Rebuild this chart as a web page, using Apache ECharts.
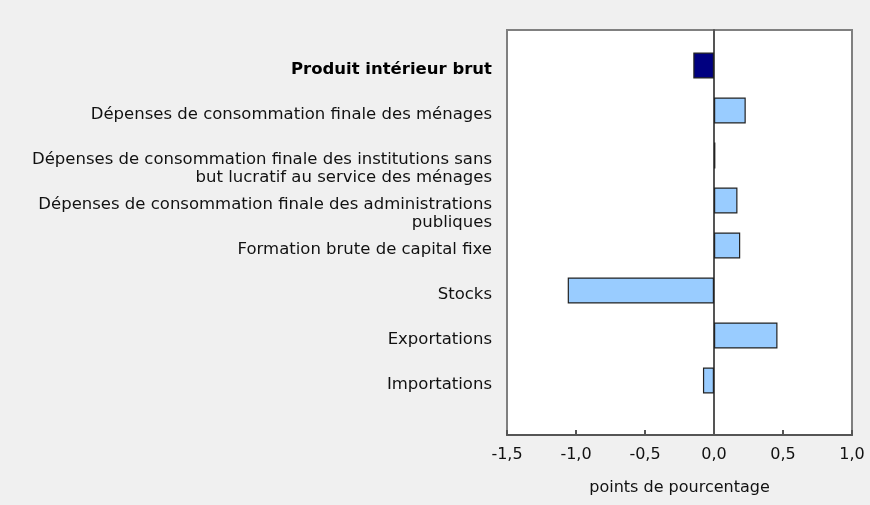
<!DOCTYPE html>
<html>
<head>
<meta charset="utf-8">
<script src="https://cdn.jsdelivr.net/npm/echarts@6/dist/echarts.min.js"></script>
<style>
html,body{margin:0;padding:0;background:#f0f0f0;}
#chart{width:870px;height:505px;}
</style>
</head>
<body>
<div id="chart"></div>
<script>
const categories = [
  "Produit intérieur brut",
  "Dépenses de consommation finale des ménages",
  "Dépenses de consommation finale des institutions sans\nbut lucratif au service des ménages",
  "Dépenses de consommation finale des administrations\npubliques",
  "Formation brute de capital fixe",
  "Stocks",
  "Exportations",
  "Importations"
];
const values = [-0.15, 0.23, 0.01, 0.17, 0.19, -1.06, 0.46, -0.08];
const highlightIndex = 0;
const xMin = -1.5, xMax = 1.0, xStep = 0.5;
const axisName = "points de pourcentage";

const fmt = v => v.toFixed(1).replace('.', ',');
const font = "DejaVu Sans";
const txt = '#111';

const chart = echarts.init(document.getElementById('chart'));
chart.setOption({
  backgroundColor: '#f0f0f0',
  animation: false,
  textStyle: {fontFamily: font},
  grid: [
    {left: 507, right: 18, top: 30, bottom: 70, show: true, backgroundColor: '#ffffff', borderColor: '#808080', borderWidth: 2},
    {left: 507, right: 18, top: 43, bottom: 102}
  ],
  xAxis: [
    {
      gridIndex: 0, type: 'value', min: xMin, max: xMax, interval: xStep,
      axisLine: {show: true, lineStyle: {color: '#555', width: 2}},
      axisTick: {show: true, inside: true, length: 5, lineStyle: {color: '#555', width: 2}},
      axisLabel: {formatter: fmt, color: txt, fontSize: 16, fontFamily: font, margin: 12},
      splitLine: {show: false},
      name: axisName, nameLocation: 'middle', nameGap: 45,
      nameTextStyle: {color: txt, fontSize: 16, fontFamily: font}
    },
    {
      gridIndex: 1, type: 'value', min: xMin, max: xMax, interval: xStep,
      show: false
    }
  ],
  yAxis: [
    {
      gridIndex: 0, type: 'value', min: 0, max: 1,
      axisLine: {show: true, onZero: true, lineStyle: {color: '#555', width: 2}},
      axisTick: {show: false}, axisLabel: {show: false}, splitLine: {show: false}
    },
    {
      gridIndex: 1, type: 'category', data: categories, inverse: true,
      axisLine: {show: false, onZero: false}, axisTick: {show: false},
      axisLabel: {
        margin: 15, color: txt, fontSize: 16.5, fontFamily: font, lineHeight: 18,
        padding: [8, 0, 0, 0],
        formatter: (v, i) => {
          if (i === highlightIndex) return '{b|' + v + '}';
          return v.indexOf('\n') >= 0 ? '\n' + v : v;
        },
        rich: {b: {fontWeight: 'bold', fontSize: 16.5, fontFamily: font, color: '#000', lineHeight: 18}}
      }
    }
  ],
  series: [{
    type: 'bar', xAxisIndex: 1, yAxisIndex: 1,
    barWidth: 26,
    data: values.map((v, i) => ({
      value: v,
      itemStyle: {color: i === highlightIndex ? '#000080' : '#99ccff', borderColor: '#222', borderWidth: 1.2}
    }))
  }]
});
</script>
</body>
</html>
